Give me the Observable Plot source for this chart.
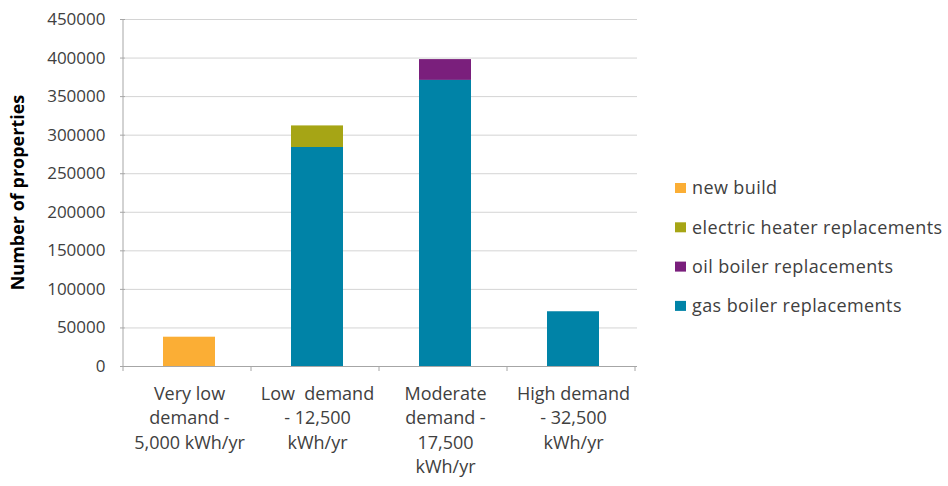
<!DOCTYPE html>
<html>
<head>
<meta charset="utf-8">
<script src="https://cdn.jsdelivr.net/npm/d3@7"></script>
<script src="https://cdn.jsdelivr.net/npm/@observablehq/plot@0.6"></script>
<style>
  body { margin: 0; background: #fff; }
  #chart { width: 948px; height: 486px; }
  svg { font-family: "Open Sans", sans-serif; }
</style>
</head>
<body>
<div id="chart"></div>
<script>
// ---- data ----
const categories = [
  "Very low\ndemand -\n5,000 kWh/yr",
  "Low  demand\n- 12,500\nkWh/yr",
  "Moderate\ndemand -\n17,500\nkWh/yr",
  "High demand\n- 32,500\nkWh/yr"
];
const seriesNames = ["new build", "electric heater replacements", "oil boiler replacements", "gas boiler replacements"];
const seriesColors = ["#FBAE35", "#A6A515", "#7A1F7C", "#0083A7"];
const newBuild = [38000, 0, 0, 0];
const electricHeater = [0, 28000, 0, 0];
const oilBoiler = [0, 0, 27000, 0];
const gasBoiler = [0, 284000, 371000, 71000];
const yTicks = [0, 50000, 100000, 150000, 200000, 250000, 300000, 350000, 400000, 450000];
const yTitle = "Number of properties";

const seriesValues = [newBuild, electricHeater, oilBoiler, gasBoiler];
const stackOrder = ["gas boiler replacements", "oil boiler replacements", "electric heater replacements", "new build"];
const rows = [];
seriesNames.forEach((s, i) => categories.forEach((c, j) => rows.push({cat: c, series: s, value: seriesValues[i][j]})));

const textColor = "#404040";
const axisColor = "#a6a6a6";

const chart = Plot.plot({
  width: 948,
  height: 486,
  marginLeft: 125,
  marginRight: 311,
  marginTop: 19,
  marginBottom: 120,
  style: {fontFamily: "'Open Sans', sans-serif", color: textColor, background: "#fff"},
  x: {domain: categories, paddingInner: 0.59, paddingOuter: 0.295, label: null},
  y: {domain: [0, 450000], label: null},
  color: {domain: seriesNames, range: seriesColors},
  marks: [
    Plot.gridY(yTicks, {stroke: "#d4d4d4", strokeOpacity: 1, strokeWidth: 1}),
    Plot.barY(rows, {x: "cat", y: "value", fill: "series", order: stackOrder}),
    Plot.ruleY([0], {stroke: axisColor}),
    Plot.axisY(yTicks, {tickSize: 5, tickPadding: 15, stroke: axisColor, fill: textColor, fontSize: 17, tickFormat: d => String(d), label: null}),
    Plot.axisX({tickSize: 0, tickPadding: 16, fontSize: 18, fill: textColor, lineHeight: 1.36, label: null, style: {letterSpacing: "0.5px"}}),
    // axis lines, category boundary ticks, y title and legend
    (index, scales, values, dims) => {
      const g = d3.create("svg:g");
      const x0 = dims.marginLeft - 2, x1 = dims.width - dims.marginRight - 2;
      const yb = scales.y(0), yt = scales.y(450000);
      g.append("line").attr("x1", x0).attr("x2", x0).attr("y1", yt).attr("y2", yb).attr("stroke", axisColor);
      const n = categories.length;
      for (let k = 0; k <= n; k++) {
        const xx = x0 + (x1 - x0) * k / n;
        g.append("line").attr("x1", xx).attr("x2", xx).attr("y1", yb).attr("y2", yb + 5).attr("stroke", axisColor);
      }
      g.append("text")
        .attr("transform", `translate(18,${(yb + yt) / 2}) rotate(-90)`)
        .attr("text-anchor", "middle")
        .attr("dy", "0.35em")
        .attr("font-family", "'Open Sans', sans-serif")
        .attr("font-size", 18)
        .attr("font-weight", "bold")
        .attr("fill", "#000")
        .text(yTitle);
      const lg = g.append("g").attr("transform", "translate(675,188)");
      seriesNames.forEach((s, i) => {
        const row = lg.append("g").attr("transform", `translate(0,${i * 39.3})`);
        row.append("rect").attr("x", 0).attr("y", -5).attr("width", 11).attr("height", 10).attr("fill", scales.color(s));
        row.append("text").attr("x", 17).attr("dy", "0.35em").attr("text-anchor", "start")
          .attr("font-size", 18).attr("letter-spacing", "0.4px").attr("fill", textColor).text(s);
      });
      return g.node();
    }
  ]
});
document.getElementById("chart").append(chart);
</script>
</body>
</html>
